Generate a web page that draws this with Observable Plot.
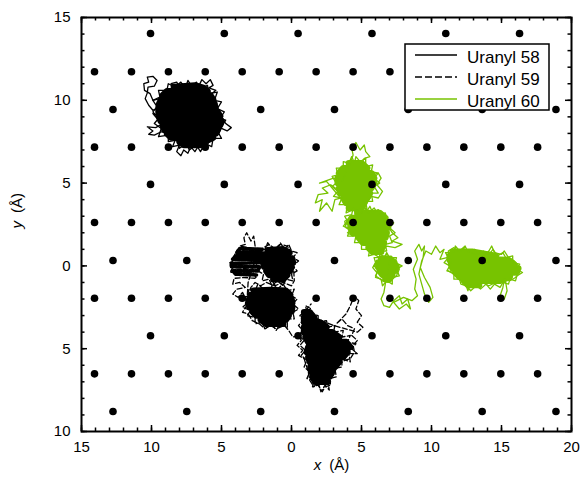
<!DOCTYPE html>
<html><head><meta charset="utf-8">
<script src="https://cdn.jsdelivr.net/npm/d3@7"></script>
<script src="https://cdn.jsdelivr.net/npm/@observablehq/plot@0.6"></script>
<style>body{margin:0;background:#fff;}</style>
</head><body><div id="chart"></div>
<script>
// ---- tick labels (as printed in the reference) ----
const xTicks = [-15,-10,-5,0,5,10,15,20];
const xTickLabels = ["15","10","5","0","5","10","15","20"];
const yTicks = [-10,-5,0,5,10,15];
const yTickLabels = ["10","5","0","5","10","15"];
const xMinorTicks = d3.range(-15, 21, 1);
const yMinorTicks = d3.range(-10, 16, 1);

// ---- surface lattice sites ----
const latticeRowY = [14.03, 11.72, 9.44, 7.17, 4.92, 2.62, 0.33, -1.95, -4.22, -6.52, -8.79];
const latticeRowType = ["A","B","C","B","A","B","C","B","A","B","C"];
const latticeA = [-10.07, -4.8, 0.47, 5.75, 11.02, 16.29];
const latticeB = [-14.07, -11.43, -8.79, -6.16, -3.52, -0.88, 1.76, 4.40, 7.03, 9.67, 12.31, 14.95, 17.58];
const latticeC = [-12.75, -7.48, -2.2, 3.07, 8.34, 13.62, 18.89];

// ---- series ----
const seriesNames = ["Uranyl 58", "Uranyl 59", "Uranyl 60"];
const seriesColors = ["#000000", "#000000", "#77c300"];
const seriesDash = [null, "5,2.5", null];

// Uranyl 58 (solid)
const core58 = [
 [-8.4,10.8],[-7.6,10.85],[-6.9,10.9],[-6.3,10.75],[-6.0,10.55],[-8.9,10.55],
 [-9.2,10.3],[-7.5,10.35],[-5.8,10.3],[-5.6,10.05],[-9.3,10.05],
 [-9.45,9.8],[-7.0,9.85],[-5.5,9.8],[-5.45,9.55],[-9.5,9.55],
 [-9.5,9.3],[-7.2,9.25],[-5.3,9.3],[-5.1,9.05],[-9.45,9.0],
 [-9.35,8.75],[-6.5,8.8],[-5.0,8.75],[-5.1,8.5],[-9.2,8.5],
 [-9.1,8.25],[-7.0,8.3],[-5.25,8.25],[-5.4,8.0],[-8.9,8.0],
 [-8.6,7.75],[-7.0,7.8],[-5.6,7.75],[-6.2,7.5],[-8.0,7.5],
 [-7.7,7.3],[-6.5,7.3]
];
const rim58 = [
 [-7.6,10.7],[-7.4,11.2],[-7.1,10.8],[-6.8,11.1],[-6.5,10.7],[-6.0,10.9],[-5.9,10.4],[-5.3,10.5],[-5.5,10.0],[-5.0,9.9],[-5.3,9.5],[-4.8,9.3],[-5.1,8.9],[-4.7,8.8],[-5.0,8.4],[-5.2,8.0],[-5.0,7.7],[-5.6,7.7],[-5.7,7.2],[-6.2,7.4],[-6.5,6.9],[-6.8,7.3],[-7.3,7.0],[-7.5,7.4],[-8.0,7.1],[-8.2,7.6],[-8.8,7.5],[-8.8,7.9],[-9.5,7.8],[-9.3,8.3],[-9.8,8.6],[-9.5,8.9],[-9.9,9.3],[-9.6,9.6],[-9.9,10.0],[-9.4,10.2],[-9.5,10.6],[-8.9,10.6],[-8.8,11.0],[-8.3,10.8],[-7.9,11.1],[-7.6,10.7]
];
const path58 = [
 [-8.9,9.9],[-9.4,10.1],[-9.9,10.0],[-10.1,10.4],[-10.5,10.6],[-10.55,11.0],[-10.2,11.1],[-10.3,11.4],[-9.9,11.45],[-9.6,11.2],[-9.8,10.85],[-10.25,10.8],[-10.3,10.45],[-10.45,10.1],[-10.2,9.7],[-9.9,9.4],[-9.4,9.6],
 [-8.5,10.5],[-8.6,11.0],[-8.2,11.1],[-8.0,10.8],[-7.8,11.0],[-7.5,10.7],
 [-6.9,10.6],[-6.6,10.9],[-6.4,11.25],[-6.1,11.0],[-5.8,11.25],[-5.6,10.9],[-5.9,10.75],[-5.4,10.6],[-5.7,10.4],
 [-5.3,9.6],[-5.0,9.0],[-4.7,8.6],[-4.3,8.35],[-4.6,8.15],[-5.0,8.3],[-5.3,8.1],
 [-5.8,7.6],[-6.2,7.1],[-6.6,7.3],[-6.9,6.9],[-7.2,7.2],[-7.4,6.8],[-7.7,7.0],[-7.9,6.65],[-8.2,6.9],[-8.0,7.3],[-8.5,7.2],[-8.3,7.6],
 [-8.8,8.0],[-9.3,8.1],[-9.8,7.9],[-10.2,7.95],[-9.9,8.15],[-10.3,8.4],[-9.7,8.35],[-9.2,8.6],
 [-9.6,8.9],[-9.9,9.2],[-9.5,9.1]
];

// Uranyl 59 (dashed)
const core59a = [
 [-1.7,0.95],[-0.6,1.0],[-0.15,0.8],[-1.9,0.7],[-2.0,0.45],[-0.9,0.5],[0.05,0.45],[0.1,0.2],[-2.0,0.2],[-1.95,-0.05],[-0.8,0.0],[0.0,-0.05],[-0.1,-0.3],[-1.8,-0.3],[-1.6,-0.55],[-0.3,-0.55],[-0.6,-0.8],[-1.3,-0.8]
];
const core59b = [
 [-2.7,-1.5],[-1.5,-1.45],[-0.4,-1.5],[-0.1,-1.75],[-2.9,-1.75],[-3.0,-2.0],[-1.2,-2.0],[0.0,-2.0],[0.05,-2.25],[-3.1,-2.25],[-3.0,-2.5],[-1.5,-2.5],[0.05,-2.5],[0.0,-2.75],[-2.8,-2.75],[-2.5,-3.0],[-1.0,-3.0],[-0.2,-3.0],[-0.4,-3.25],[-2.2,-3.25],[-1.8,-3.5],[-0.6,-3.5]
];
const core59c = [
 [0.9,-2.8],[1.3,-2.8],[1.6,-3.1],[0.9,-3.1],[0.9,-3.4],[2.0,-3.4],[2.5,-3.7],[0.9,-3.7],[0.9,-4.0],[2.0,-3.95],[2.9,-4.0],[3.4,-4.3],[1.0,-4.3],[1.2,-4.6],[2.5,-4.55],[3.9,-4.6],[4.2,-4.9],[1.2,-4.9],[1.1,-5.2],[2.6,-5.15],[4.0,-5.2],[3.7,-5.5],[1.2,-5.5],[1.3,-5.8],[3.4,-5.8],[3.1,-6.1],[1.35,-6.1],[1.4,-6.4],[2.9,-6.4],[2.7,-6.7],[1.5,-6.7],[1.7,-7.0],[2.6,-7.0]
];
const mid59 = [
 [-2.1,1.0],[-3.7,1.05],[-3.9,0.8],[-2.1,0.8],[-2.1,0.6],[-4.0,0.6],[-4.2,0.4],[-2.2,0.4],[-2.3,0.2],[-4.3,0.15],[-4.3,-0.05],[-2.3,-0.05],[-2.4,-0.3],[-4.2,-0.3],[-4.0,-0.5],[-2.5,-0.55]
];
const rim59a = [
 [-1.0,1.0],[-0.8,1.4],[-0.5,1.0],[-0.2,1.3],[0.0,0.9],[0.4,0.8],[0.1,0.5],[0.5,0.3],[0.1,0.0],[0.4,-0.3],[0.0,-0.5],[0.1,-0.9],[-0.4,-0.8],[-0.6,-1.2],[-1.0,-0.9],[-1.4,-1.2],[-1.6,-0.8],[-2.1,-0.9],[-2.0,-0.5],[-2.4,-0.3],[-2.1,0.0],[-2.5,0.3],[-2.1,0.5],[-2.4,0.9],[-1.9,1.0],[-1.7,1.4],[-1.4,1.0],[-1.0,1.0]
];
const rim59b = [
 [-1.5,-1.45],[-1.3,-1.0],[-1.0,-1.4],[-0.6,-1.1],[-0.3,-1.5],[0.2,-1.4],[0.0,-1.8],[0.4,-2.0],[0.1,-2.3],[0.5,-2.6],[0.1,-2.8],[0.2,-3.2],[-0.3,-3.2],[-0.3,-3.7],[-0.8,-3.5],[-1.1,-3.9],[-1.4,-3.5],[-1.9,-3.8],[-2.1,-3.4],[-2.6,-3.5],[-2.6,-3.1],[-3.2,-3.0],[-2.9,-2.7],[-3.5,-2.5],[-3.1,-2.2],[-3.5,-1.9],[-3.0,-1.8],[-3.1,-1.4],[-2.6,-1.5],[-2.4,-1.1],[-2.0,-1.4],[-1.5,-1.45]
];
const rim59c = [
 [1.1,-2.8],[1.0,-2.4],[1.4,-2.6],[1.5,-2.9],[1.9,-3.0],[1.9,-3.4],[2.5,-3.3],[2.6,-3.7],[3.1,-3.6],[3.0,-4.0],[3.7,-3.9],[3.6,-4.3],[4.2,-4.2],[4.0,-4.6],[4.6,-4.7],[4.3,-5.0],[4.7,-5.3],[4.1,-5.3],[4.2,-5.8],[3.6,-5.6],[3.6,-6.1],[3.1,-6.2],[3.2,-6.7],[2.7,-6.8],[2.8,-7.2],[2.4,-7.3],[2.2,-7.6],[1.9,-7.2],[1.5,-7.3],[1.6,-6.9],[1.1,-6.8],[1.3,-6.4],[0.9,-6.1],[1.1,-5.7],[0.7,-5.4],[1.0,-5.1],[0.6,-4.8],[0.9,-4.5],[0.5,-4.2],[0.8,-3.9],[0.5,-3.6],[0.8,-3.3],[0.6,-3.0],[0.9,-2.8]
];
const path59 = [
 [-2.6,1.2],[-2.7,1.8],[-2.9,1.5],[-3.2,2.0],[-3.4,1.7],[-3.3,1.3],[-3.7,1.2],
 [-2.3,1.0],[-3.0,0.9],[-3.9,0.95],[-4.1,0.6],[-3.2,0.65],[-2.4,0.5],[-3.0,0.35],[-3.8,0.4],[-4.4,0.2],[-3.6,0.1],[-2.6,0.15],[-2.3,-0.1],[-3.3,-0.15],[-4.2,-0.1],[-4.4,-0.4],[-3.5,-0.35],[-2.7,-0.45],[-2.5,-0.75],[-3.4,-0.7],[-4.1,-0.75],
 [-4.2,-1.1],[-3.7,-1.0],[-3.3,-1.3],[-3.9,-1.4],[-4.2,-1.7],[-3.8,-1.9],[-3.5,-1.6],[-3.2,-2.1],[-2.9,-1.3],[-2.6,-1.0],[-2.2,-1.2],[-1.8,-1.0],[-1.2,-1.2],[-0.6,-1.0],[0.0,-1.2],[0.2,-0.9],
 [0.1,0.6],[-0.3,1.2],[-0.8,1.3],[-1.2,1.05],[-1.6,1.3],[-2.0,1.1],[-2.4,0.8],[-2.8,-0.2],[-3.1,-1.0],
 [-3.2,-2.4],[-3.5,-2.8],[-3.1,-2.9],[-2.8,-3.3],[-2.3,-3.5],[-1.9,-3.8],[-1.5,-3.6],[-1.1,-3.8],[-0.5,-3.6],[-0.2,-3.9],[0.1,-4.3],[0.5,-4.2],[0.7,-4.5],[0.4,-4.8],[0.8,-5.1],[0.5,-5.4],[0.9,-5.6],
 [1.2,-6.4],[1.3,-6.9],[1.6,-7.3],[1.9,-7.0],[2.1,-7.6],[2.4,-7.2],[2.7,-7.5],[2.6,-7.0],[3.0,-6.6],[3.3,-6.0],[3.8,-5.7],[4.2,-5.6],[4.5,-5.2],[4.4,-4.8],[4.7,-4.5],[4.3,-4.2],[4.5,-3.8],[4.0,-3.6],[3.6,-3.2],[3.2,-3.5],
 [3.9,-2.9],[4.2,-2.4],[4.5,-1.8],[4.8,-2.1],[4.6,-2.6],[5.0,-3.0],[4.7,-3.4],[5.1,-3.7],[4.7,-4.0],
 [3.0,-3.6],[1.3,-3.0],[1.1,-2.6],[1.4,-2.3]
];

// Uranyl 60 (green)
const core60a = [
 [4.1,6.2],[5.0,6.2],[5.4,5.9],[3.7,5.9],[3.4,5.6],[4.6,5.65],[5.7,5.6],[5.9,5.3],[3.3,5.3],[3.3,5.0],[4.5,4.95],[5.9,5.0],[5.7,4.7],[3.4,4.7],[3.5,4.4],[4.6,4.45],[5.6,4.4],[5.4,4.1],[3.7,4.1],[3.9,3.8],[5.2,3.8],[5.0,3.5],[4.1,3.5]
];
const core60b = [
 [4.7,3.2],[6.3,3.2],[6.7,2.9],[4.3,2.9],[4.1,2.6],[5.5,2.65],[6.9,2.6],[6.9,2.3],[4.2,2.3],[4.4,2.0],[5.6,2.05],[6.8,2.0],[6.7,1.7],[4.8,1.7],[5.1,1.4],[6.6,1.4],[6.5,1.1],[5.5,1.1],[5.8,0.85],[6.4,0.85]
];
const core60c = [
 [6.4,0.45],[6.9,0.45],[7.3,0.2],[6.2,0.2],[6.2,-0.05],[7.5,-0.05],[7.4,-0.3],[6.3,-0.3],[6.5,-0.55],[7.2,-0.55],[7.0,-0.8],[6.7,-0.8]
];
const core60d = [
 [11.5,0.85],[12.9,0.85],[14.6,0.6],[11.3,0.6],[11.3,0.35],[13.5,0.4],[15.5,0.35],[15.9,0.1],[11.4,0.1],[11.5,-0.15],[13.8,-0.1],[16.2,-0.15],[16.0,-0.4],[11.7,-0.4],[12.0,-0.65],[13.9,-0.6],[15.6,-0.65],[14.9,-0.9],[12.3,-0.9],[12.6,-1.15],[13.4,-1.15]
];
const rim60a = [
 [4.5,6.2],[4.6,6.6],[4.9,6.3],[5.3,6.5],[5.3,6.0],[5.8,6.1],[5.7,5.7],[6.2,5.6],[5.9,5.3],[6.3,5.0],[5.9,4.8],[6.2,4.4],[5.7,4.4],[5.8,3.9],[5.3,3.9],[5.4,3.4],[4.9,3.5],[4.7,3.1],[4.4,3.4],[3.9,3.2],[4.0,3.7],[3.4,3.7],[3.6,4.1],[3.0,4.2],[3.3,4.5],[2.9,4.8],[3.2,5.0],[2.9,5.4],[3.3,5.5],[3.2,5.9],[3.7,5.9],[3.7,6.3],[4.1,6.2],[4.3,6.6],[4.5,6.2]
];
const rim60b = [
 [5.0,3.2],[5.2,3.6],[5.5,3.2],[5.9,3.5],[6.2,3.1],[6.7,3.2],[6.8,2.8],[7.3,2.6],[7.0,2.3],[7.4,2.0],[7.0,1.8],[7.2,1.4],[6.7,1.3],[6.8,0.9],[6.3,0.9],[6.3,0.5],[5.9,0.7],[5.5,0.6],[5.6,1.0],[5.0,1.0],[5.0,1.4],[4.5,1.4],[4.6,1.8],[4.0,1.8],[4.2,2.2],[3.7,2.4],[4.0,2.7],[3.8,3.0],[4.3,3.1],[4.4,3.5],[4.8,3.3],[5.0,3.2]
];
const rim60c = [
 [6.6,0.45],[6.8,0.8],[7.0,0.5],[7.5,0.5],[7.4,0.2],[7.9,0.0],[7.5,-0.2],[7.7,-0.6],[7.2,-0.7],[7.2,-1.1],[6.8,-0.9],[6.5,-1.2],[6.4,-0.8],[6.0,-0.7],[6.1,-0.4],[5.8,-0.1],[6.0,0.2],[5.9,0.5],[6.3,0.5],[6.6,0.45]
];
const rim60d = [
 [11.6,0.85],[11.7,1.2],[12.0,0.9],[12.4,1.2],[12.6,0.85],[13.1,1.0],[13.3,0.7],[13.7,0.9],[14.1,0.7],[14.4,1.0],[14.7,0.6],[15.1,0.8],[15.3,0.5],[15.8,0.6],[15.8,0.2],[16.3,0.1],[16.1,-0.2],[16.5,-0.4],[16.1,-0.6],[16.0,-0.9],[15.6,-0.8],[15.5,-1.1],[15.1,-1.0],[14.9,-1.3],[14.5,-1.1],[14.2,-1.4],[13.9,-1.1],[13.5,-1.4],[13.2,-1.2],[12.8,-1.5],[12.5,-1.2],[12.1,-1.1],[12.0,-0.8],[11.6,-0.8],[11.6,-0.4],[11.1,-0.3],[11.3,0.0],[10.9,0.2],[11.2,0.5],[11.0,0.8],[11.4,0.8],[11.6,0.85]
];
const path60 = [
 [3.3,4.6],[2.8,4.9],[2.2,4.7],[2.6,4.4],[1.9,4.3],[1.7,3.8],[2.2,4.0],[2.0,3.3],[2.5,3.8],[2.9,3.3],[3.1,4.0],[3.5,4.1],[2.5,5.1],[2.0,5.0],[3.0,5.3],[3.6,5.1],
 [4.2,6.2],[4.4,6.7],[4.3,7.1],[4.6,7.45],[4.9,7.0],[5.2,7.3],[5.3,6.9],[5.6,6.6],[5.2,6.5],[5.0,6.2],
 [5.8,5.5],[6.2,5.6],[6.4,5.3],[6.1,4.9],[6.5,4.5],[6.2,4.1],[5.7,4.2],[5.4,3.8],
 [5.0,3.4],[4.9,3.1],
 [4.2,2.9],[3.8,2.7],[3.9,2.3],[4.3,2.2],[4.0,2.0],[4.4,1.8],
 [4.8,3.2],[5.0,3.55],[5.3,3.2],[5.6,3.6],[5.8,3.2],[6.2,3.4],[6.4,3.0],
 [6.9,2.4],[7.2,2.0],[7.6,1.7],[7.2,1.5],[7.9,1.3],[7.4,1.1],[6.8,1.2],
 [6.3,0.8],[6.6,0.5],
 [6.1,0.3],[5.9,0.0],[6.2,-0.3],[6.0,-0.6],[6.5,-0.9],[6.9,-1.0],[7.5,-0.6],[7.7,-0.2],[7.5,0.3],[7.1,0.6],
 [6.7,-1.1],[6.6,-1.6],[6.4,-2.0],[6.6,-2.4],[7.0,-2.5],[7.3,-2.1],[7.7,-1.8],[7.9,-2.3],[8.3,-2.0],[8.5,-2.6],[8.2,-2.3],[7.7,-2.6],[7.3,-2.2],[8.0,-1.9],[8.6,-2.1],[9.0,-1.8],[8.8,-1.4],
 [8.9,-0.8],[8.7,-0.2],[9.0,0.4],[8.8,0.9],[9.1,1.3],[9.3,0.9],[9.5,1.2],[9.4,0.5],[9.2,-0.1],[9.5,-0.7],[9.9,-1.3],[10.1,-1.9],[9.8,-2.2],[9.5,-1.7],[9.3,-1.1],[9.1,-0.5],[9.3,0.3],
 [9.6,0.9],[10.0,0.7],[10.3,1.2],[10.6,0.8],[10.9,1.0],[10.6,0.4],[11.1,0.5],[11.4,0.2],
 [11.2,0.9],[11.6,1.1],[12.0,0.85],[12.3,1.05],[12.6,0.9],[13.0,0.7],[13.4,0.85],[13.8,0.65],[14.1,0.9],[14.3,1.2],[14.5,0.8],[15.0,0.7],[15.2,0.9],[15.5,0.5],[15.9,0.3],[16.2,0.0],[16.3,-0.4],[16.0,-0.7],[15.6,-0.9],[15.2,-0.8],[15.1,-1.3],[14.9,-1.8],[15.2,-2.0],[15.4,-1.5],[15.3,-1.0],[14.6,-1.0],[14.1,-1.2],[13.6,-1.0],[13.1,-1.3],[12.7,-1.2],[12.6,-1.5],[12.4,-1.0],[11.9,-0.8],[11.6,-0.5],[11.2,-0.3]
];

// ---- build lattice table ----
const rowX = {A: latticeA, B: latticeB, C: latticeC};
const lattice = latticeRowY.flatMap((y, i) => rowX[latticeRowType[i]].map(x => ({x, y})));

const W = 581, H = 477, mL = 81, mR = 10, mT = 17, mB = 46;
const innerW = W - mL - mR, innerH = H - mT - mB;
const major = 6, minor = 3.5;

const coreLine = (data, color, w = 6.5) => Plot.line(data, {stroke: color, strokeWidth: w, strokeLinejoin: "round", strokeLinecap: "round"});
const thinLine = (data, color, dash, w = 1.3) => Plot.line(data, {stroke: color, strokeWidth: w, strokeLinejoin: "round", strokeDasharray: dash || undefined});

const chart = Plot.plot({
  width: W, height: H,
  marginLeft: mL, marginRight: mR, marginTop: mT, marginBottom: mB,
  x: {domain: [-15, 20]},
  y: {domain: [-10, 15]},
  style: {fontFamily: "'Liberation Sans', Arial, Helvetica, sans-serif", fontSize: "15px", color: "black", background: "white"},
  marks: [
    coreLine(core58, seriesColors[0]),
    thinLine(rim58, seriesColors[0]),
    thinLine(path58, seriesColors[0]),
    coreLine(core59a, seriesColors[1]),
    coreLine(core59b, seriesColors[1]),
    coreLine(core59c, seriesColors[1]),
    thinLine(mid59, seriesColors[1], "5,1", 3.6),
    thinLine(rim59a, seriesColors[1], seriesDash[1]),
    thinLine(rim59b, seriesColors[1], seriesDash[1]),
    thinLine(rim59c, seriesColors[1], seriesDash[1]),
    thinLine(path59, seriesColors[1], seriesDash[1]),
    coreLine(core60a, seriesColors[2]),
    coreLine(core60b, seriesColors[2]),
    coreLine(core60c, seriesColors[2]),
    coreLine(core60d, seriesColors[2]),
    thinLine(rim60a, seriesColors[2]),
    thinLine(rim60b, seriesColors[2]),
    thinLine(rim60c, seriesColors[2]),
    thinLine(rim60d, seriesColors[2]),
    thinLine(path60, seriesColors[2]),
    Plot.dot(lattice, {x: "x", y: "y", r: 3.8, fill: "black", stroke: "none"}),
    Plot.frame({strokeWidth: 2}),
    Plot.ruleX(xMinorTicks, {insetTop: innerH - minor, strokeWidth: 1.5}),
    Plot.ruleX(xMinorTicks, {insetBottom: innerH - minor, strokeWidth: 1.5}),
    Plot.ruleX(xTicks, {insetTop: innerH - major, strokeWidth: 1.5}),
    Plot.ruleX(xTicks, {insetBottom: innerH - major, strokeWidth: 1.5}),
    Plot.ruleY(yMinorTicks, {insetRight: innerW - minor, strokeWidth: 1.5}),
    Plot.ruleY(yMinorTicks, {insetLeft: innerW - minor, strokeWidth: 1.5}),
    Plot.ruleY(yTicks, {insetRight: innerW - major, strokeWidth: 1.5}),
    Plot.ruleY(yTicks, {insetLeft: innerW - major, strokeWidth: 1.5}),
    Plot.axisX(xTicks, {tickSize: 0, tickPadding: 10, label: null, tickFormat: d => xTickLabels[xTicks.indexOf(d)]}),
    Plot.axisY(yTicks, {tickSize: 0, tickPadding: 11, label: null, tickFormat: d => yTickLabels[yTicks.indexOf(d)]}),
    Plot.text(["x (Å)"], {frameAnchor: "bottom", dy: 38, dx: 5, text: d => d, fontSize: 15}),
    Plot.text(["y (Å)"], {frameAnchor: "left", dx: -64, dy: 4, rotate: -90, text: d => d, fontSize: 15})
  ]
});
document.getElementById("chart").appendChild(chart);

const svg = d3.select(chart);
// italic variable names in axis labels
svg.selectAll("text").filter(function() { return this.textContent === "x (Å)" || this.textContent === "y (Å)"; })
  .each(function() {
    const t = this.textContent;
    const sel = d3.select(this).text(null);
    sel.append("tspan").attr("font-style", "italic").text(t[0]);
    sel.append("tspan").attr("dx", 8).text(t.slice(2));
  });

// legend box
const lg = svg.append("g")
  .attr("font-family", "'Liberation Sans', Arial, Helvetica, sans-serif")
  .attr("font-size", 17).attr("text-anchor", "start");
lg.append("rect").attr("x", 405).attr("y", 44).attr("width", 144).attr("height", 66)
  .attr("fill", "white").attr("stroke", "black").attr("stroke-width", 1.5);
seriesNames.forEach((name, i) => {
  const yy = 55 + 22 * i;
  lg.append("line").attr("x1", 415).attr("x2", 457).attr("y1", yy).attr("y2", yy)
    .attr("stroke", seriesColors[i]).attr("stroke-width", 1.5)
    .attr("stroke-dasharray", seriesDash[i] ? "7,3" : null);
  lg.append("text").attr("x", 467).attr("y", yy + 8).attr("fill", "black").attr("text-anchor", "start").text(name);
});
</script>
</body></html>
